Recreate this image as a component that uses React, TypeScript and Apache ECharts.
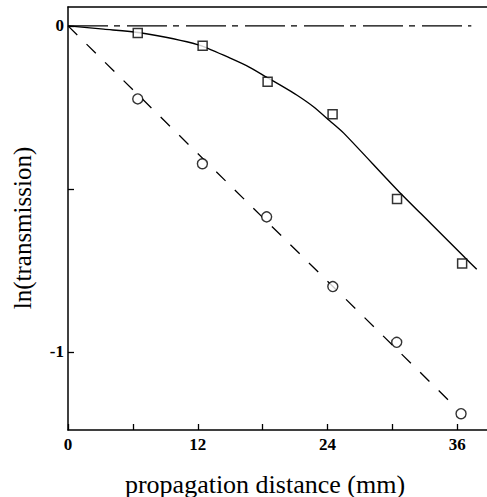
import React, { useEffect, useRef } from "react";
import * as echarts from "echarts";

const xTicks = [0, 6, 12, 18, 24, 30, 36];
const xLabels = [0, 12, 24, 36];
const yTicks = [-1, -0.5, 0];
const yLabels = [-1, 0];

const squareX = [6.45, 12.45, 18.46, 24.47, 30.43, 36.45];
const squareY = [-0.022, -0.061, -0.171, -0.271, -0.531, -0.729];
const circleX = [6.45, 12.43, 18.37, 24.49, 30.4, 36.35];
const circleY = [-0.224, -0.423, -0.586, -0.8, -0.971, -1.19];

const curveX = [0, 3.3, 6.66, 12.05, 15.0, 16.8, 18.4, 19.6, 21.15, 22.7, 24.2, 25.5, 30.5, 33.6, 36.7, 37.8];
const curveY = [0, -0.01, -0.021, -0.058, -0.099, -0.127, -0.158, -0.181, -0.212, -0.248, -0.291, -0.329, -0.505, -0.608, -0.711, -0.747];

const fitX = [0, 35.6];
const fitY = [0, -1.162];
const refX = [0, 37.3];
const refY = [0, 0];

const xTitle = "propagation distance (mm)";
const yTitle = "ln(transmission)";

const FONT = "'Liberation Serif', 'DejaVu Serif', serif";

export default function App() {
  const ref = useRef<HTMLDivElement>(null);
  useEffect(() => {
    if (!ref.current) return;
    const chart = echarts.init(ref.current, undefined, { renderer: "svg" });
    const pairs = (xs: number[], ys: number[]) => xs.map((x, i) => [x, ys[i]]);
    const axisLine = { show: true, onZero: false, lineStyle: { color: "#000", width: 1.5 } };
    chart.setOption({
      animation: false,
      backgroundColor: "#fff",
      grid: { left: 68, top: 7, right: 0, bottom: 67, containLabel: false },
      xAxis: [
        {
          type: "value",
          min: 0,
          max: 38.75,
          axisLine,
          splitLine: { show: false },
          axisTick: {
            show: true,
            inside: true,
            length: 6,
            customValues: xTicks,
            lineStyle: { color: "#000", width: 1.3 },
          },
          axisLabel: {
            customValues: xLabels,
            margin: 6,
            color: "#000",
            fontFamily: FONT,
            fontSize: 17,
            fontWeight: "bold",
          },
        },
        {
          type: "value",
          position: "top",
          min: 0,
          max: 38.75,
          axisLine,
          axisTick: { show: false },
          axisLabel: { show: false },
          splitLine: { show: false },
        },
      ],
      yAxis: {
        type: "value",
        min: -1.24,
        max: 0.058,
        axisLine,
        splitLine: { show: false },
        axisTick: {
          show: true,
          inside: true,
          length: 6,
          customValues: yTicks,
          lineStyle: { color: "#000", width: 1.3 },
        },
        axisLabel: {
          customValues: yLabels,
          margin: 4,
          color: "#000",
          fontFamily: FONT,
          fontSize: 17,
          fontWeight: "bold",
          formatter: (v: number) => String(v),
        },
      },
      graphic: [
        {
          type: "text",
          x: 265,
          y: 484,
          style: {
            text: xTitle,
            align: "center",
            verticalAlign: "middle",
            fontFamily: FONT,
            fontSize: 26,
            fill: "#000",
          },
        },
        {
          type: "text",
          x: 22,
          y: 228,
          rotation: Math.PI / 2,
          style: {
            text: yTitle,
            align: "center",
            verticalAlign: "middle",
            fontFamily: FONT,
            fontSize: 25,
            fill: "#000",
          },
        },
      ],
      series: [
        {
          type: "line",
          data: pairs(refX, refY),
          symbol: "none",
          lineStyle: { color: "#000", width: 1.3, type: [40, 6, 6, 7] },
        },
        {
          type: "line",
          data: pairs(fitX, fitY),
          symbol: "none",
          lineStyle: { color: "#000", width: 1.3, type: [13, 13] },
        },
        {
          type: "line",
          data: pairs(curveX, curveY),
          symbol: "none",
          smooth: 0.25,
          lineStyle: { color: "#000", width: 1.4, type: "solid" },
        },
        {
          type: "scatter",
          data: pairs(squareX, squareY),
          symbol: "rect",
          symbolSize: 9,
          itemStyle: { color: "#fff", borderColor: "#000", borderWidth: 1.5 },
          z: 5,
        },
        {
          type: "scatter",
          data: pairs(circleX, circleY),
          symbol: "circle",
          symbolSize: 10,
          itemStyle: { color: "#fff", borderColor: "#000", borderWidth: 1.4 },
          z: 5,
        },
      ],
    });
    return () => chart.dispose();
  }, []);
  return (
    <div
      ref={ref}
      style={{ position: "fixed", left: 0, top: 0, width: 487, height: 497 }}
    />
  );
}
